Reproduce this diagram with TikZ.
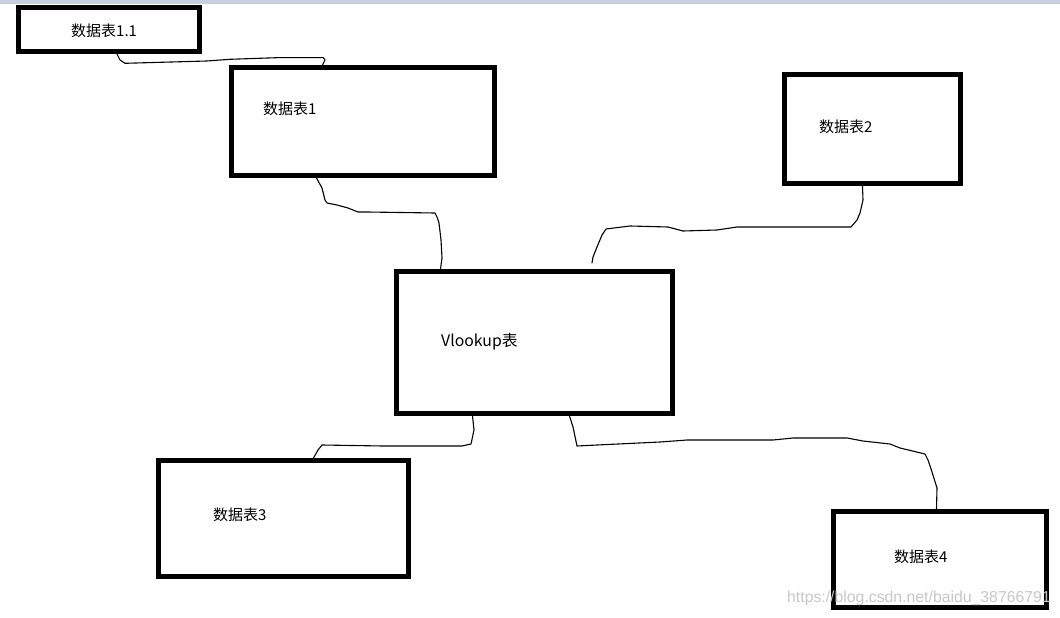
\documentclass[tikz,border=0pt]{standalone}
\usepackage{fontspec}
\setmainfont{Noto Sans CJK SC}
\newfontfamily\wmfont{Liberation Sans}
\definecolor{topbar}{RGB}{197,207,224}
\definecolor{wmgray}{RGB}{200,200,200}
\tikzset{
  tbox/.style={draw=black, line width=5pt, fill=white, inner sep=0pt},
  tlabel/.style={anchor=west, inner sep=0pt, font=\fontsize{15}{17}\selectfont},
  wire/.style={draw=black, line width=1.1pt, line join=round, line cap=round},
}
\begin{document}
\begin{tikzpicture}[x=1pt, y=-1pt]
\useasboundingbox (0,0) rectangle (1060,618);
\fill[white] (0,0) rectangle (1060,618);
\fill[topbar] (0,0) rectangle (1060,4.5);
% boxes (centre line of the border)
\node[tbox, minimum width=181pt, minimum height=44pt] (b11) at (109,29.5) {};
\node[tbox, minimum width=263pt, minimum height=108pt] (b1) at (363,121.5) {};
\node[tbox, minimum width=176pt, minimum height=109pt] (b2) at (872.5,129) {};
\node[tbox, minimum width=276pt, minimum height=142pt] (bV) at (534.5,342.5) {};
\node[tbox, minimum width=250pt, minimum height=116pt] (b3) at (283.5,518.5) {};
\node[tbox, minimum width=213pt, minimum height=96pt] (b4) at (940,559.5) {};
% labels
\node[tlabel] (t11) at (71,31) {数据表1.1};
\node[tlabel] (t1) at (263,109) {数据表1};
\node[tlabel] (t2) at (819,127) {数据表2};
\node[tlabel, font=\fontsize{15.8}{18}\selectfont] (tV) at (441,342) {Vlookup表};
\node[tlabel] (t3) at (213,515) {数据表3};
\node[tlabel] (t4) at (894,557) {数据表4};
% connectors
\draw[wire] ([xshift=101pt]b11.south west) -- (120,60) -- (125,63.3) -- (206.7,61) -- (230,59.3) -- (276.7,57.7) -- (323.3,57.7) -- (325,60) -- ([xshift=93.5pt]b1.north west);
\draw[wire] ([xshift=87.5pt]b1.south west) -- (322,188) -- (325,200) -- (327,203) -- (337,205) -- (348,208) -- (358,212) -- (367,212) -- (435,213) -- (437,217) -- (439,223) -- (441,240) -- (442,258) -- ([xshift=46.5pt]bV.north west);
\coordinate (e2) at (592,263);
\draw[wire] ([xshift=80.5pt]b2.south west) -- (863,200) -- (860,213) -- (857,220) -- (851,227) -- (737,227) -- (717,230) -- (683,231) -- (668,227) -- (630,226) -- (606,229) -- (602,235) -- (597,247) -- (593,257) -- (e2);
\draw[wire] ([xshift=78.5pt]bV.south west) -- (474,430) -- (471,444) -- (462,446) -- (383,446) -- (322,445) -- (318,450) -- ([xshift=157.5pt]b3.north west);
\draw[wire] ([xshift=175.5pt]bV.south west) -- (573,427) -- (577,446) -- (597,445) -- (660,442) -- (687,440) -- (773,440) -- (793,438) -- (847,438) -- (863,441) -- (890,444) -- (900,448) -- (925,454) -- (928,460) -- (932,472) -- (937,488) -- ([xshift=105.5pt]b4.north west);
% watermark
\node[anchor=west, inner sep=0pt, text=wmgray, font=\wmfont\fontsize{15.8}{18}\selectfont] (wm) at (787,598) {https://blog.csdn.net/baidu\_38766791};
\end{tikzpicture}
\end{document}
